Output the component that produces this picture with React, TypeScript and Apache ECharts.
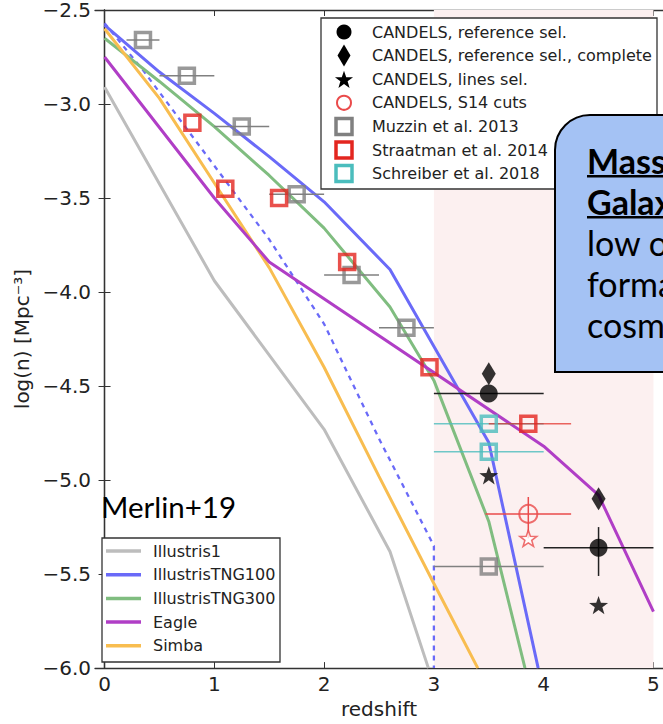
import { useEffect, useRef } from 'react';
import * as echarts from 'echarts';

// ---- axis ticks ----
const xTicks = [0, 1, 2, 3, 4, 5];

// ---- simulation curves: [redshift, log(n)] ----
const illustris1 = [[0, -2.91], [1, -3.94], [2, -4.73], [2.6, -5.38], [2.95, -6.0]];
const tng100 = [[0, -2.58], [0.5, -2.83], [1, -3.05], [1.5, -3.28], [2, -3.52], [2.6, -3.88], [3.5, -4.8], [3.95, -6.0]];
const tng100Dashed = [[0, -2.57], [0.35, -2.82], [1.5, -3.72], [2, -4.17], [2.5, -4.78], [3, -5.35], [3, -6.0]];
const tng300 = [[0, -2.65], [0.5, -2.88], [1, -3.12], [1.5, -3.38], [2, -3.66], [2.6, -4.08], [3, -4.47], [3.5, -5.22], [3.83, -6.0]];
const eagle = [[0, -2.75], [1, -3.5], [1.5, -3.84], [4, -4.82], [4.5, -5.08], [5, -5.7]];
const simba = [[0, -2.6], [0.5, -2.97], [1, -3.42], [1.5, -3.87], [2, -4.4], [2.5, -4.98], [3, -5.55], [3.4, -6.0]];

// ---- observations ----
const muzzinZ = [0.35, 0.75, 1.25, 1.75, 2.25, 2.75, 3.5];
const muzzinLogN = [-2.66, -2.85, -3.12, -3.48, -3.91, -4.19, -5.46];
const muzzinZLo = [0.2, 0.5, 1.0, 1.5, 2.0, 2.5, 3.0];
const muzzinZHi = [0.5, 1.0, 1.5, 2.0, 2.5, 3.0, 4.0];

const straatmanZ = [0.8, 1.1, 1.59, 2.21, 2.96, 3.86];
const straatmanLogN = [-3.1, -3.45, -3.5, -3.84, -4.4, -4.7];
const straatmanZLo = [0.8, 1.1, 1.59, 2.21, 2.96, 3.5];
const straatmanZHi = [0.8, 1.1, 1.59, 2.21, 2.96, 4.25];

const schreiberZ = [3.5, 3.5];
const schreiberLogN = [-4.7, -4.85];
const schreiberZLo = [3.0, 3.0];
const schreiberZHi = [4.0, 4.0];

const refSelZ = [3.5, 4.5];
const refSelLogN = [-4.54, -5.36];
const refSelZLo = [3.0, 4.0];
const refSelZHi = [4.0, 5.0];
const refSelLogNLo = [-4.54, -5.51];
const refSelLogNHi = [-4.54, -5.25];

const refCompleteZ = [3.5, 4.5];
const refCompleteLogN = [-4.435, -5.1];

const linesSelZ = [3.5, 4.5];
const linesSelLogN = [-4.975, -5.665];

const s14Z = [3.86];
const s14LogN = [-5.18];
const s14ZLo = [3.47];
const s14ZHi = [4.25];
const s14LogNLo = [-5.31];
const s14LogNHi = [-5.09];
const s14LinesZ = [3.86];
const s14LinesLogN = [-5.31];

const highZRange = [3, 5];

const simLabels = ['Illustris1', 'IllustrisTNG100', 'IllustrisTNG300', 'Eagle', 'Simba'];
const obsLabels = [
  'CANDELS, reference sel.',
  'CANDELS, reference sel., complete',
  'CANDELS, lines sel.',
  'CANDELS, S14 cuts',
  'Muzzin et al. 2013',
  'Straatman et al. 2014',
  'Schreiber et al. 2018',
];

const C = {
  gray: '#bdbdbd',
  blue: '#6a6af8',
  green: '#80bd80',
  purple: '#b03ec6',
  orange: '#f8bd50',
  muzzin: '#808080',
  red: '#e3261f',
  cyan: '#4bbdbd',
  s14: '#ea4b4b',
};

const FONT = 'DejaVu Sans';

function starPoints(cx: number, cy: number, r: number) {
  const pts: number[][] = [];
  for (let i = 0; i < 10; i++) {
    const rr = i % 2 === 0 ? r : r * 0.4;
    const a = -Math.PI / 2 + (i * Math.PI) / 5;
    pts.push([cx + rr * Math.cos(a), cy + rr * Math.sin(a)]);
  }
  return pts;
}

const starSymbol =
  'path://' +
  starPoints(0, 0, 1)
    .map((p, i) => (i ? 'L' : 'M') + p[0].toFixed(4) + ' ' + p[1].toFixed(4))
    .join('') +
  'Z';

const zip = (a: number[], b: number[]) => a.map((v, i) => [v, b[i]]);

function errData(z: number[], y: number[], zLo: number[], zHi: number[], yLo?: number[], yHi?: number[]) {
  return z.map((v, i) => [v, y[i], zLo[i], zHi[i], yLo ? yLo[i] : y[i], yHi ? yHi[i] : y[i]]);
}

function errSeries(data: number[][], color: string, width: number, opacity = 1) {
  return {
    type: 'custom',
    z: 4,
    silent: true,
    encode: { x: 0, y: 1 },
    data,
    renderItem: (_p: any, api: any) => {
      const y = api.value(1);
      const x = api.value(0);
      const children: any[] = [];
      const a = api.coord([api.value(2), y]);
      const b = api.coord([api.value(3), y]);
      if (Math.abs(b[0] - a[0]) > 0.5) {
        children.push({ type: 'line', shape: { x1: a[0], y1: a[1], x2: b[0], y2: b[1] }, style: { stroke: color, lineWidth: width, opacity } });
      }
      const c = api.coord([x, api.value(4)]);
      const d = api.coord([x, api.value(5)]);
      if (Math.abs(d[1] - c[1]) > 0.5) {
        children.push({ type: 'line', shape: { x1: c[0], y1: c[1], x2: d[0], y2: d[1] }, style: { stroke: color, lineWidth: width, opacity } });
      }
      return { type: 'group', children };
    },
  };
}

function lineSeries(name: string, data: number[][], color: string, dashed = false) {
  return {
    type: 'line',
    name,
    data,
    symbol: 'none',
    z: 3,
    silent: true,
    lineStyle: { color, width: dashed ? 2.3 : 3, type: dashed ? [5, 5] : 'solid' },
  };
}

function buildGraphics() {
  const g: any[] = [];
  // observation legend (upper)
  g.push({ type: 'rect', z: 100, shape: { x: 321, y: 18, width: 336, height: 171 }, style: { fill: '#fff', stroke: '#333', lineWidth: 1.3 } });
  const mx = 344;
  obsLabels.forEach((label, i) => {
    const cy = 32 + i * 23.6;
    let m: any;
    if (i === 0) m = { type: 'circle', shape: { cx: mx, cy, r: 7.5 }, style: { fill: '#000' } };
    else if (i === 1) m = { type: 'polygon', shape: { points: [[mx, cy - 11], [mx + 6.5, cy], [mx, cy + 11], [mx - 6.5, cy]] }, style: { fill: '#000' } };
    else if (i === 2) m = { type: 'polygon', shape: { points: starPoints(mx, cy + 1, 9.5) }, style: { fill: '#000' } };
    else if (i === 3) m = { type: 'circle', shape: { cx: mx, cy, r: 7 }, style: { fill: 'none', stroke: C.s14, lineWidth: 2 } };
    else {
      const col = [C.muzzin, C.red, C.cyan][i - 4];
      m = { type: 'rect', shape: { x: mx - 8, y: cy - 8, width: 16, height: 16 }, style: { fill: 'none', stroke: col, lineWidth: 3.5 } };
    }
    m.z = 101;
    g.push(m);
    g.push({ type: 'text', z: 101, x: 372, y: cy, style: { text: label, fontSize: 16, fontFamily: FONT, fill: '#222', align: 'left', verticalAlign: 'middle' } });
  });

  // simulation legend (lower left)
  g.push({ type: 'rect', z: 100, shape: { x: 102, y: 538, width: 178, height: 124 }, style: { fill: '#fff', stroke: '#333', lineWidth: 1.3 } });
  const simColors = [C.gray, C.blue, C.green, C.purple, C.orange];
  simLabels.forEach((label, i) => {
    const cy = 551 + i * 23.7;
    g.push({ type: 'line', z: 101, shape: { x1: 106, y1: cy, x2: 141, y2: cy }, style: { stroke: simColors[i], lineWidth: 3.5 } });
    g.push({ type: 'text', z: 101, x: 153, y: cy, style: { text: label, fontSize: 16, fontFamily: FONT, fill: '#222', align: 'left', verticalAlign: 'middle' } });
  });

  // reference tag
  g.push({ type: 'text', z: 101, x: 101, y: 506, style: { text: 'Merlin+19', fontSize: 29.5, fontFamily: 'Lato', fill: '#000', align: 'left', verticalAlign: 'middle' } });

  // callout box
  g.push({ type: 'rect', z: 200, shape: { x: 555, y: 115, width: 140, height: 257, r: [35, 0, 0, 0] }, style: { fill: '#a4c2f4', stroke: '#000', lineWidth: 2 } });
  const boxLines = [
    { t: 'Massive', bold: true, base: 172 },
    { t: 'Galaxies', bold: true, base: 213 },
    { t: 'low or', bold: false, base: 254 },
    { t: 'formation', bold: false, base: 295 },
    { t: 'cosmic', bold: false, base: 336 },
  ];
  boxLines.forEach((l) => {
    g.push({
      type: 'text',
      z: 201,
      x: 587,
      y: l.base - 12,
      style: { text: l.t, fontSize: 34, fontFamily: 'Lato', fontWeight: l.bold ? 'bold' : 'normal', fill: '#000', align: 'left', verticalAlign: 'middle' },
    });
    if (l.bold) {
      g.push({ type: 'rect', z: 201, shape: { x: 587, y: l.base + 3, width: 120, height: 2.5 }, style: { fill: '#000' } });
    }
  });
  return g;
}

export default function App() {
  const ref = useRef<HTMLDivElement>(null);

  useEffect(() => {
    if (!ref.current) return;
    const chart = echarts.init(ref.current, undefined, { renderer: 'svg' });

    const axisLine = { show: true, lineStyle: { color: '#333', width: 1.3 } };
    const tickStyle = { color: '#333', width: 1 };
    const minus = (v: number) => v.toFixed(1).replace('-', '\u2212');

    chart.setOption({
      animation: false,
      backgroundColor: '#fff',
      grid: { left: 95, top: 10, width: 569, height: 660, containLabel: false },
      xAxis: [
        {
          type: 'value',
          min: -0.087,
          max: 5.087,
          position: 'bottom',
          axisLine,
          axisTick: { show: true, inside: true, length: 6, customValues: xTicks, lineStyle: tickStyle },
          axisLabel: { customValues: xTicks, formatter: (v: number) => String(v), fontSize: 20, fontFamily: FONT, color: '#222', margin: 6 },
          splitLine: { show: false },
          name: 'redshift',
          nameLocation: 'middle',
          nameGap: 28,
          nameTextStyle: { fontSize: 20, fontFamily: FONT, color: '#222' },
        },
        {
          type: 'value',
          min: -0.087,
          max: 5.087,
          position: 'top',
          axisLine,
          axisTick: { show: true, inside: true, length: 6, customValues: xTicks, lineStyle: tickStyle },
          axisLabel: { show: false },
          splitLine: { show: false },
        },
      ],
      yAxis: [
        {
          type: 'value',
          min: -6,
          max: -2.5,
          interval: 0.5,
          position: 'left',
          axisLine,
          axisTick: { show: true, inside: true, length: 6, lineStyle: tickStyle },
          axisLabel: { formatter: minus, fontSize: 20, fontFamily: FONT, color: '#222', margin: 4 },
          splitLine: { show: false },
          name: 'log(n) [Mpc\u207B\u00B3]',
          nameLocation: 'middle',
          nameRotate: 90,
          nameGap: 62,
          nameTextStyle: { fontSize: 20, fontFamily: FONT, color: '#222' },
        },
        {
          type: 'value',
          min: -6,
          max: -2.5,
          interval: 0.5,
          position: 'right',
          axisLine,
          axisTick: { show: true, inside: true, length: 6, lineStyle: tickStyle },
          axisLabel: { show: false },
          splitLine: { show: false },
        },
      ],
      series: [
        {
          type: 'line',
          data: [],
          z: 1,
          silent: true,
          markArea: {
            silent: true,
            itemStyle: { color: '#fcf0f0' },
            data: [[{ xAxis: highZRange[0], yAxis: -6 }, { xAxis: highZRange[1], yAxis: -2.5 }]],
          },
        },
        lineSeries('Illustris1', illustris1, C.gray),
        lineSeries('IllustrisTNG100', tng100, C.blue),
        lineSeries('IllustrisTNG100 (dashed)', tng100Dashed, C.blue, true),
        lineSeries('IllustrisTNG300', tng300, C.green),
        lineSeries('Simba', simba, C.orange),
        lineSeries('Eagle', eagle, C.purple),

        errSeries(errData(muzzinZ, muzzinLogN, muzzinZLo, muzzinZHi), C.muzzin, 1.5),
        errSeries(errData(schreiberZ, schreiberLogN, schreiberZLo, schreiberZHi), C.cyan, 1.5, 0.8),
        errSeries(errData(straatmanZ, straatmanLogN, straatmanZLo, straatmanZHi), C.red, 1.5, 0.7),
        errSeries(errData(refSelZ, refSelLogN, refSelZLo, refSelZHi, refSelLogNLo, refSelLogNHi), '#222', 1.5),
        errSeries(errData(s14Z, s14LogN, s14ZLo, s14ZHi, s14LogNLo, s14LogNHi), C.s14, 1.5),

        {
          type: 'scatter', name: obsLabels[4], data: zip(muzzinZ, muzzinLogN), symbol: 'rect', symbolSize: 15, z: 5, silent: true,
          itemStyle: { color: 'rgba(0,0,0,0)', borderColor: C.muzzin, borderWidth: 3.5 },
        },
        {
          type: 'scatter', name: obsLabels[6], data: zip(schreiberZ, schreiberLogN), symbol: 'rect', symbolSize: 15, z: 5, silent: true,
          itemStyle: { color: 'rgba(0,0,0,0)', borderColor: C.cyan, borderWidth: 3.5 },
        },
        {
          type: 'scatter', name: obsLabels[5], data: zip(straatmanZ, straatmanLogN), symbol: 'rect', symbolSize: 15, z: 6, silent: true,
          itemStyle: { color: 'rgba(0,0,0,0)', borderColor: C.red, borderWidth: 3.5 },
        },
        {
          type: 'scatter', name: obsLabels[0], data: zip(refSelZ, refSelLogN), symbol: 'circle', symbolSize: 18, z: 6, silent: true,
          itemStyle: { color: '#000' },
        },
        {
          type: 'scatter', name: obsLabels[1], data: zip(refCompleteZ, refCompleteLogN), symbol: 'diamond', symbolSize: [14, 23], z: 6, silent: true,
          itemStyle: { color: '#000' },
        },
        {
          type: 'scatter', name: obsLabels[2], data: zip(linesSelZ, linesSelLogN), symbol: starSymbol, symbolSize: 19, symbolKeepAspect: true, z: 6, silent: true,
          itemStyle: { color: '#000' },
        },
        {
          type: 'scatter', name: obsLabels[3], data: zip(s14Z, s14LogN), symbol: 'circle', symbolSize: 18, z: 6, silent: true,
          itemStyle: { color: 'rgba(0,0,0,0)', borderColor: C.s14, borderWidth: 2 },
        },
        {
          type: 'scatter', name: 'CANDELS, S14 lines', data: zip(s14LinesZ, s14LinesLogN), symbol: starSymbol, symbolSize: 17, symbolKeepAspect: true, z: 6, silent: true,
          itemStyle: { color: '#fff', borderColor: C.s14, borderWidth: 1.5 },
        },
      ],
      graphic: buildGraphics(),
    });

    return () => chart.dispose();
  }, []);

  return (
    <div
      ref={ref}
      style={{ position: 'fixed', left: 0, top: 0, width: 663, height: 724, background: '#fff' }}
    />
  );
}
